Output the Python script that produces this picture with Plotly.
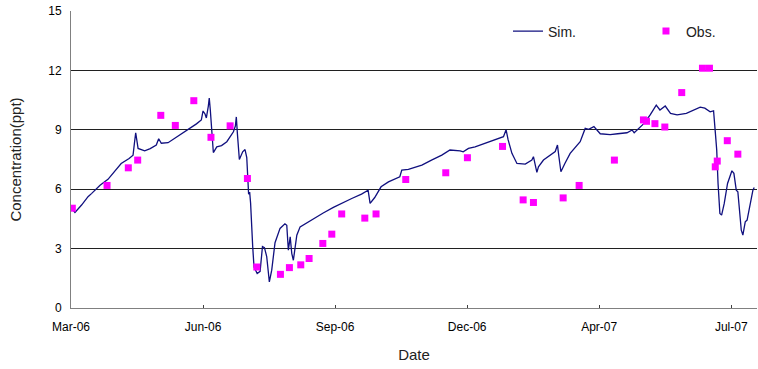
import pandas as pd
import plotly.graph_objects as go

START = "2006-03-01"

# Simulated series: days after START, concentration (ppt)
sim_day = [1, 3, 8, 12.9, 15.7, 20.5, 22, 28, 38, 44, 47, 48, 49, 50.8, 53, 55.8, 60, 64.6, 66.4, 68.4,
           73.5, 78, 83.6, 88.6, 95, 98.7, 100, 101.5, 102.5, 104, 104.7, 105.5, 106.8, 107.8, 110.4,
           114, 118, 123, 124.5, 125.2, 126, 127.5, 130, 131.8, 133.1, 133.8, 134.5, 135.3, 136,
           137.6, 138.6, 141, 143.2, 145, 146.5, 148.2, 149.5, 150.2, 152, 154.5, 158.3, 162, 163.4,
           164.6, 166, 167.2, 168.4, 169.6, 171, 173.5, 178.5, 183.6, 191, 198.7, 205, 212.6, 220,
           225, 226.5, 230, 234.8, 240.4, 249, 250.5, 255.5, 265.7, 273, 280.8, 287, 294.7, 297,
           301, 306, 310, 320, 327.5, 329.5, 331, 333.9, 337.7, 344, 349, 350.2, 351, 352.8, 354,
           357.8, 366.7, 368.4, 369.5, 371, 374, 378, 385.6, 389.4, 392, 396, 400.8, 408.3, 414,
           421, 425, 426.5, 433.6, 438.6, 443.2, 446, 450, 454, 459, 466, 476.5, 480, 484, 486.6,
           488, 489, 490, 491.4, 492.7, 494.7, 497.2, 500.5, 502, 503.8, 505, 506, 507.6, 508.8,
           510.6, 512, 514.4, 516.4, 517.4]
sim_val = [5.0, 4.83, 5.2, 5.62, 5.79, 6.1, 6.2, 6.5, 7.3, 7.55, 7.72, 8.3, 8.85, 8.06, 8.0, 7.94, 8.05, 8.23, 8.55, 8.32,
           8.35, 8.55, 8.82, 9.0, 9.3, 9.5, 9.95, 9.8, 9.6, 10.2, 10.6, 10.0, 8.82, 7.85, 8.14,
           8.2, 8.4, 8.9, 9.2, 9.65, 8.82, 7.5, 7.89, 8.0, 7.6, 6.3, 5.75, 5.85, 5.3,
           3.1, 2.07, 1.74, 1.85, 3.1, 3.05, 2.6, 1.74, 1.32, 1.91, 3.3, 4.02, 4.25, 4.18,
           2.92, 3.59, 2.75, 2.41, 3.09, 3.68, 4.1, 4.3, 4.52, 4.8, 5.08, 5.3, 5.53, 5.75,
           5.95, 5.28, 5.58, 6.12, 6.37, 6.63, 6.97, 7.0, 7.22, 7.47, 7.72, 7.98, 7.94, 7.89,
           8.06, 8.14, 8.23, 8.48, 8.65, 9.0, 8.5, 7.81, 7.3, 7.27, 7.47, 7.64, 7.4, 6.85, 7.13,
           7.47, 7.9, 8.23, 7.64, 6.88, 7.3, 7.81, 8.4, 9.07, 9.02, 9.16, 8.8, 8.76, 8.8,
           8.85, 8.99, 8.85, 9.3, 9.75, 10.25, 10.0, 10.2, 9.83, 9.75, 9.83, 10.14, 10.09, 9.91, 9.96,
           8.82, 7.98, 6.29, 4.77, 4.69, 5.28, 6.29, 6.93, 6.8, 5.95, 5.87, 5.11, 3.93, 3.68,
           4.35, 4.44, 5.28, 5.95, 6.09]

# Observed samples: days after START, concentration (ppt)
obs_day = [1, 27.3, 43.4, 50.5, 68, 79, 93, 106, 120.5, 133.6, 140.7, 158.6, 165.4, 174, 180.3,
           190.7, 197.5, 205, 222.5, 231, 253.5, 283.8, 300.2, 326.8, 342.4, 350.2, 372.7, 384.8,
           411.5, 433.5, 435.8, 442.2, 449.7, 462.5, 478.2, 483.5, 487.9, 489.4, 497, 505]
obs_val = [5.04, 6.19, 7.08, 7.47, 9.73, 9.22, 10.47, 8.62, 9.2, 6.54, 2.07, 1.7, 2.04, 2.18, 2.5,
           3.26, 3.73, 4.75, 4.54, 4.75, 6.49, 6.83, 7.59, 8.16, 5.46, 5.33, 5.56, 6.19,
           7.47, 9.5, 9.43, 9.31, 9.14, 10.88, 12.11, 12.11, 7.13, 7.42, 8.45, 7.77]

tick_step_days = 100
n_ticks = 6
x_end_days = 519.5
y_ticks = [0, 3, 6, 9, 12, 15]

start = pd.Timestamp(START)
to_dates = lambda days: [start + pd.Timedelta(days=d) for d in days]

FONT = "Liberation Sans, Arial, sans-serif"

fig = go.Figure()
fig.add_trace(go.Scatter(
    x=to_dates(sim_day), y=sim_val, mode="lines", name="Sim.",
    line=dict(color="#10107f", width=1.3), legendwidth=93))
fig.add_trace(go.Scatter(
    x=to_dates(obs_day), y=obs_val, mode="markers", name="Obs.",
    marker=dict(symbol="square", color="#ff00ff", size=7, line=dict(width=0)),
    legendwidth=40))

fig.update_layout(
    width=758, height=369,
    margin=dict(l=71, r=1, t=11, b=61, autoexpand=False),
    paper_bgcolor="white", plot_bgcolor="white",
    font=dict(family=FONT, color="#000000", size=12),
    showlegend=True,
    legend=dict(orientation="h", x=0.637, y=0.985, xanchor="left", yanchor="top",
                bgcolor="rgba(0,0,0,0)", font=dict(size=14, color="#222"),
                entrywidthmode="pixels"),
    xaxis=dict(
        type="date",
        range=[start, start + pd.Timedelta(days=x_end_days)],
        tickvals=to_dates([k * tick_step_days for k in range(n_ticks)]),
        tickformat="%b-%y",
        showgrid=False, zeroline=False,
        showline=True, linecolor="#808080", linewidth=1,
        ticks="inside", ticklen=3, tickcolor="#404040",
        ticklabelstandoff=8,
        tickfont=dict(size=12),
        title=dict(text="Date", font=dict(size=15, color="#222"), standoff=16),
    ),
    yaxis=dict(
        range=[0, 15],
        tickvals=y_ticks,
        showgrid=True, gridcolor="#202020", gridwidth=1,
        zeroline=False,
        showline=True, linecolor="#808080", linewidth=1,
        ticks="outside", ticklen=6, tickcolor="rgba(0,0,0,0)",
        tickfont=dict(size=12),
        title=dict(text="Concentration(ppt)", font=dict(size=15, color="#222"), standoff=22),
    ),
)

fig.write_html("out.html")
